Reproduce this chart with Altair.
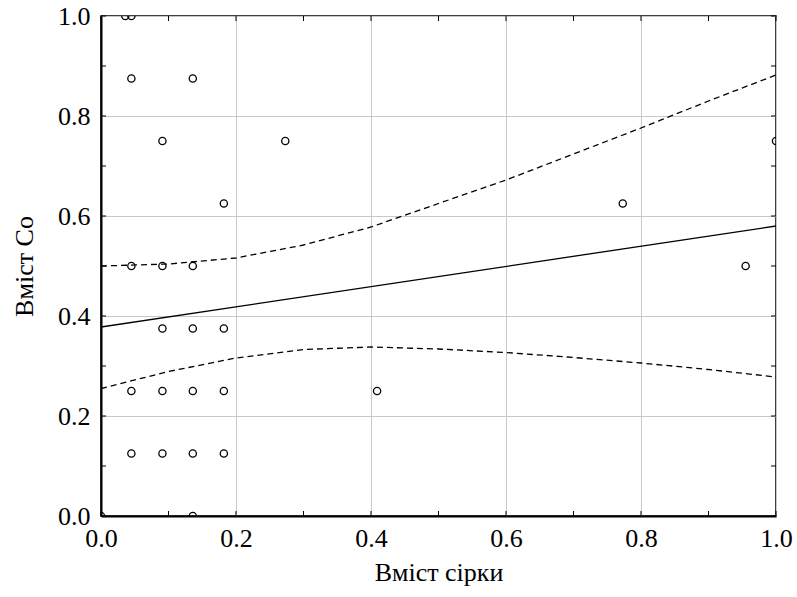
import altair as alt
import pandas as pd

# Scatter data (Вміст сірки vs Вміст Co)
sulfur = [0.0, 0.036, 0.045, 0.045, 0.136, 0.091, 0.273, 0.182, 0.045, 0.091, 0.136,
          0.091, 0.136, 0.182, 0.045, 0.091, 0.136, 0.182, 0.045, 0.091, 0.136, 0.182,
          0.136, 0.409, 0.773, 0.955, 1.0]
cobalt = [0.0, 1.0, 1.0, 0.875, 0.875, 0.75, 0.75, 0.625, 0.5, 0.5, 0.5,
          0.375, 0.375, 0.375, 0.25, 0.25, 0.25, 0.25, 0.125, 0.125, 0.125, 0.125,
          0.0, 0.25, 0.625, 0.5, 0.75]

# Regression line
fit_x = [0.0, 1.0]
fit_y = [0.378, 0.580]

# Confidence band (dashed)
band_x = [0.0, 0.1, 0.2, 0.3, 0.4, 0.5, 0.6, 0.7, 0.8, 0.9, 1.0]
band_upper = [0.500, 0.504, 0.516, 0.542, 0.578, 0.625, 0.672, 0.724, 0.776, 0.830, 0.882]
band_lower = [0.255, 0.289, 0.316, 0.333, 0.338, 0.334, 0.327, 0.317, 0.306, 0.293, 0.278]

# Axis ticks / labels
tick_vals = [0.0, 0.1, 0.2, 0.3, 0.4, 0.5, 0.6, 0.7, 0.8, 0.9, 1.0]
label_vals = [0.0, 0.2, 0.4, 0.6, 0.8, 1.0]

W, H = 675, 500
FONT = "Liberation Serif"

xs = alt.Scale(domain=[0, 1], nice=False, zero=False)
ys = alt.Scale(domain=[0, 1], nice=False, zero=False)

xa = alt.Axis(title="Вміст сірки", values=label_vals, format=".1f", labelPadding=9, titlePadding=8,
              labelFont=FONT, titleFont=FONT)
ya = alt.Axis(title="Вміст Co", values=label_vals, format=".1f", labelPadding=11, titlePadding=20,
              labelFont=FONT, titleFont=FONT)

X = lambda f: alt.X(f, type="quantitative", scale=xs, axis=xa)
Y = lambda f: alt.Y(f, type="quantitative", scale=ys, axis=ya)

pts_df = pd.DataFrame({"x": sulfur, "y": cobalt})
fit_df = pd.DataFrame({"x": fit_x, "y": fit_y})
up_df = pd.DataFrame({"x": band_x, "y": band_upper})
lo_df = pd.DataFrame({"x": band_x, "y": band_lower})
tick_df = pd.DataFrame({"x": tick_vals, "y": tick_vals})

points = alt.Chart(pts_df).mark_point(shape="circle", filled=False, color="black",
                                      size=52, strokeWidth=1.3, opacity=1, clip=True).encode(
    x=X("x"), y=Y("y"))

fit = alt.Chart(fit_df).mark_line(color="black", strokeWidth=1.3).encode(x=X("x"), y=Y("y"))
upper = alt.Chart(up_df).mark_line(color="black", strokeWidth=1.3, strokeDash=[6, 4]).encode(
    x=X("x"), y=Y("y"))
lower = alt.Chart(lo_df).mark_line(color="black", strokeWidth=1.3, strokeDash=[6, 4]).encode(
    x=X("x"), y=Y("y"))

tk = alt.Chart(tick_df)
tick_bottom = tk.mark_rule(color="black", strokeWidth=1).encode(
    x=X("x"), y=alt.value(H), y2=alt.value(H - 5))
tick_top = tk.mark_rule(color="black", strokeWidth=1).encode(
    x=X("x"), y=alt.value(0), y2=alt.value(5))
tick_left = tk.mark_rule(color="black", strokeWidth=1).encode(
    y=Y("y"), x=alt.value(0), x2=alt.value(5))
tick_right = tk.mark_rule(color="black", strokeWidth=1).encode(
    y=Y("y"), x=alt.value(W), x2=alt.value(W - 5))

chart = alt.layer(points, fit, upper, lower, tick_bottom, tick_top, tick_left, tick_right).properties(
    width=W, height=H,
    autosize=alt.AutoSizeParams(type="none"),
    padding={"left": 101, "top": 16, "right": 21, "bottom": 81},
    background="white",
).configure_view(
    stroke="black", strokeWidth=1.5
).configure_axis(
    ticks=False, tickSize=0, grid=True, gridColor="#c8c8c8", gridWidth=1,
    domainColor="black", domainWidth=2,
    labelFont=FONT, labelFontSize=26, labelColor="black", labelFlush=False,
    titleFont=FONT, titleFontSize=26, titleFontWeight="normal", titleColor="black",
)

chart.save("out.html", embed_options={"renderer": "svg", "actions": False})
